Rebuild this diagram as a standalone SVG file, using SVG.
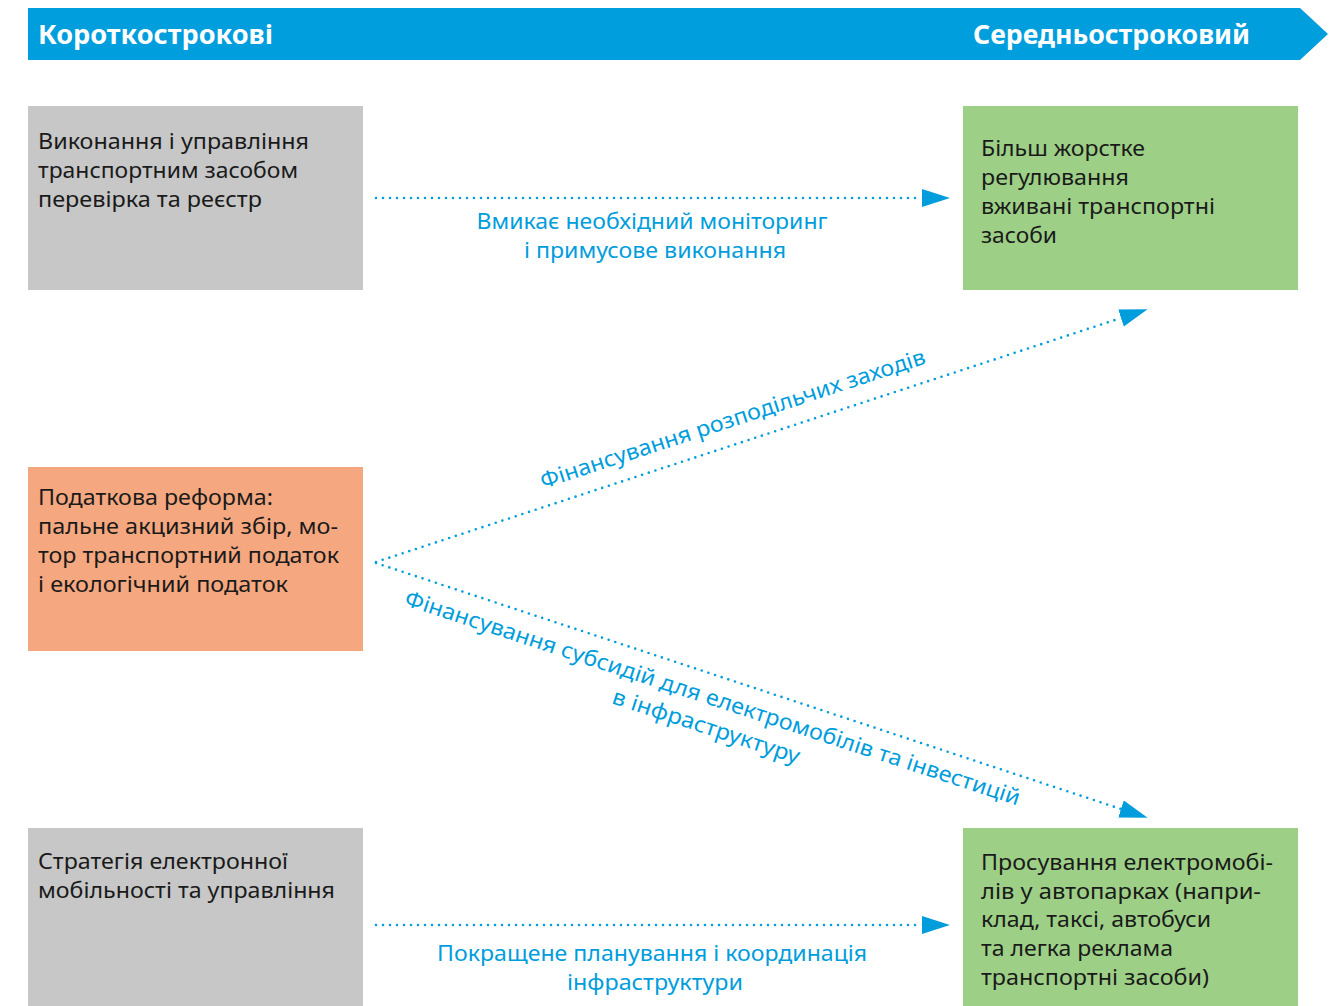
<svg xmlns="http://www.w3.org/2000/svg" width="1338" height="1006" viewBox="0 0 1338 1006">
  <style>
    .box-text { font-family: "Noto Sans", "Open Sans", "DejaVu Sans", sans-serif; font-size: 22.5px; fill: #1a1a1a; }
    .hdr { font-family: "Noto Sans", "Open Sans", "DejaVu Sans", sans-serif; font-size: 27px; font-weight: bold; fill: #ffffff; }
    .lbl { font-family: "Noto Sans", "Open Sans", "DejaVu Sans", sans-serif; font-size: 22px; fill: #009ddc; }
    .conn { fill: none; stroke: #009ddc; stroke-width: 2.6; stroke-linecap: round; stroke-dasharray: 0 7; marker-end: url(#arrow); }
    .grey { fill: #c6c7c6; }
    .green { fill: #9dd086; }
    .orange { fill: #f5a880; }
  </style>
  <defs>
    <marker id="arrow" markerUnits="userSpaceOnUse" markerWidth="30" markerHeight="20" refX="0" refY="9" orient="auto">
      <path d="M0,0 L28,9 L0,18 Z" fill="#009ddc"/>
    </marker>
  </defs>

  <g id="header">
    <polygon points="28,8 1300,8 1328,34 1300,60 28,60" fill="#009edd"/>
    <text class="hdr" x="38" y="44" textLength="235" lengthAdjust="spacingAndGlyphs">Короткострокові</text>
    <text class="hdr" x="973" y="44" textLength="277" lengthAdjust="spacingAndGlyphs">Середньостроковий</text>
  </g>

  <g id="node-enforcement">
    <rect class="grey" x="28" y="106" width="335" height="184"/>
    <text class="box-text">
      <tspan x="38" y="149" textLength="271" lengthAdjust="spacingAndGlyphs">Виконання і управління</tspan>
      <tspan x="38" y="178" textLength="260" lengthAdjust="spacingAndGlyphs">транспортним засобом</tspan>
      <tspan x="38" y="207" textLength="224" lengthAdjust="spacingAndGlyphs">перевірка та реєстр</tspan>
    </text>
  </g>

  <g id="node-regulation">
    <rect class="green" x="963" y="106" width="335" height="184"/>
    <text class="box-text">
      <tspan x="981" y="156" textLength="164" lengthAdjust="spacingAndGlyphs">Більш жорстке</tspan>
      <tspan x="981" y="185" textLength="148" lengthAdjust="spacingAndGlyphs">регулювання</tspan>
      <tspan x="981" y="214" textLength="234" lengthAdjust="spacingAndGlyphs">вживані транспортні</tspan>
      <tspan x="981" y="243" textLength="76" lengthAdjust="spacingAndGlyphs">засоби</tspan>
    </text>
  </g>

  <g id="node-tax">
    <rect class="orange" x="28" y="467" width="335" height="184"/>
    <text class="box-text">
      <tspan x="38" y="505" textLength="235" lengthAdjust="spacingAndGlyphs">Податкова реформа:</tspan>
      <tspan x="38" y="534" textLength="300" lengthAdjust="spacingAndGlyphs">пальне акцизний збір, мо-</tspan>
      <tspan x="38" y="563" textLength="301" lengthAdjust="spacingAndGlyphs">тор транспортний податок</tspan>
      <tspan x="38" y="592" textLength="250" lengthAdjust="spacingAndGlyphs">і екологічний податок</tspan>
    </text>
  </g>

  <g id="node-emobility">
    <rect class="grey" x="28" y="828" width="335" height="178"/>
    <text class="box-text">
      <tspan x="38" y="869" textLength="250" lengthAdjust="spacingAndGlyphs">Стратегія електронної</tspan>
      <tspan x="38" y="898" textLength="297" lengthAdjust="spacingAndGlyphs">мобільності та управління</tspan>
    </text>
  </g>

  <g id="node-promotion">
    <rect class="green" x="963" y="828" width="335" height="178"/>
    <text class="box-text">
      <tspan x="981" y="870" textLength="292" lengthAdjust="spacingAndGlyphs">Просування електромобі-</tspan>
      <tspan x="981" y="899" textLength="280" lengthAdjust="spacingAndGlyphs">лів у автопарках (напри-</tspan>
      <tspan x="981" y="927" textLength="230" lengthAdjust="spacingAndGlyphs">клад, таксі, автобуси</tspan>
      <tspan x="981" y="956" textLength="192" lengthAdjust="spacingAndGlyphs">та легка реклама</tspan>
      <tspan x="981" y="985" textLength="228" lengthAdjust="spacingAndGlyphs">транспортні засоби)</tspan>
    </text>
  </g>

  <g id="connectors">
    <line class="conn" x1="376" y1="198" x2="922" y2="198"/>
    <line class="conn" x1="376" y1="562" x2="1121" y2="318"/>
    <line class="conn" x1="376" y1="563" x2="1121" y2="809"/>
    <line class="conn" x1="376" y1="925" x2="922" y2="925"/>

    <text class="lbl" text-anchor="middle">
      <tspan x="655" y="229" textLength="351" lengthAdjust="spacingAndGlyphs">Вмикає необхідний моніторинг</tspan>
      <tspan x="655" y="258" textLength="262" lengthAdjust="spacingAndGlyphs">і примусове виконання</tspan>
    </text>
    <text class="lbl" text-anchor="middle" transform="translate(735,426) rotate(-18.1)">
      <tspan x="0" y="0" textLength="404" lengthAdjust="spacingAndGlyphs">Фінансування розподільчих заходів</tspan>
    </text>
    <text class="lbl" text-anchor="middle" transform="translate(713,706) rotate(18.1)">
      <tspan x="0" y="0" textLength="646" lengthAdjust="spacingAndGlyphs">Фінансування субсидій для електромобілів та інвестицій</tspan>
      <tspan x="0" y="29" textLength="196" lengthAdjust="spacingAndGlyphs">в інфраструктуру</tspan>
    </text>
    <text class="lbl" text-anchor="middle">
      <tspan x="655" y="961" textLength="430" lengthAdjust="spacingAndGlyphs">Покращене планування і координація</tspan>
      <tspan x="655" y="990" textLength="176" lengthAdjust="spacingAndGlyphs">інфраструктури</tspan>
    </text>
  </g>
</svg>
